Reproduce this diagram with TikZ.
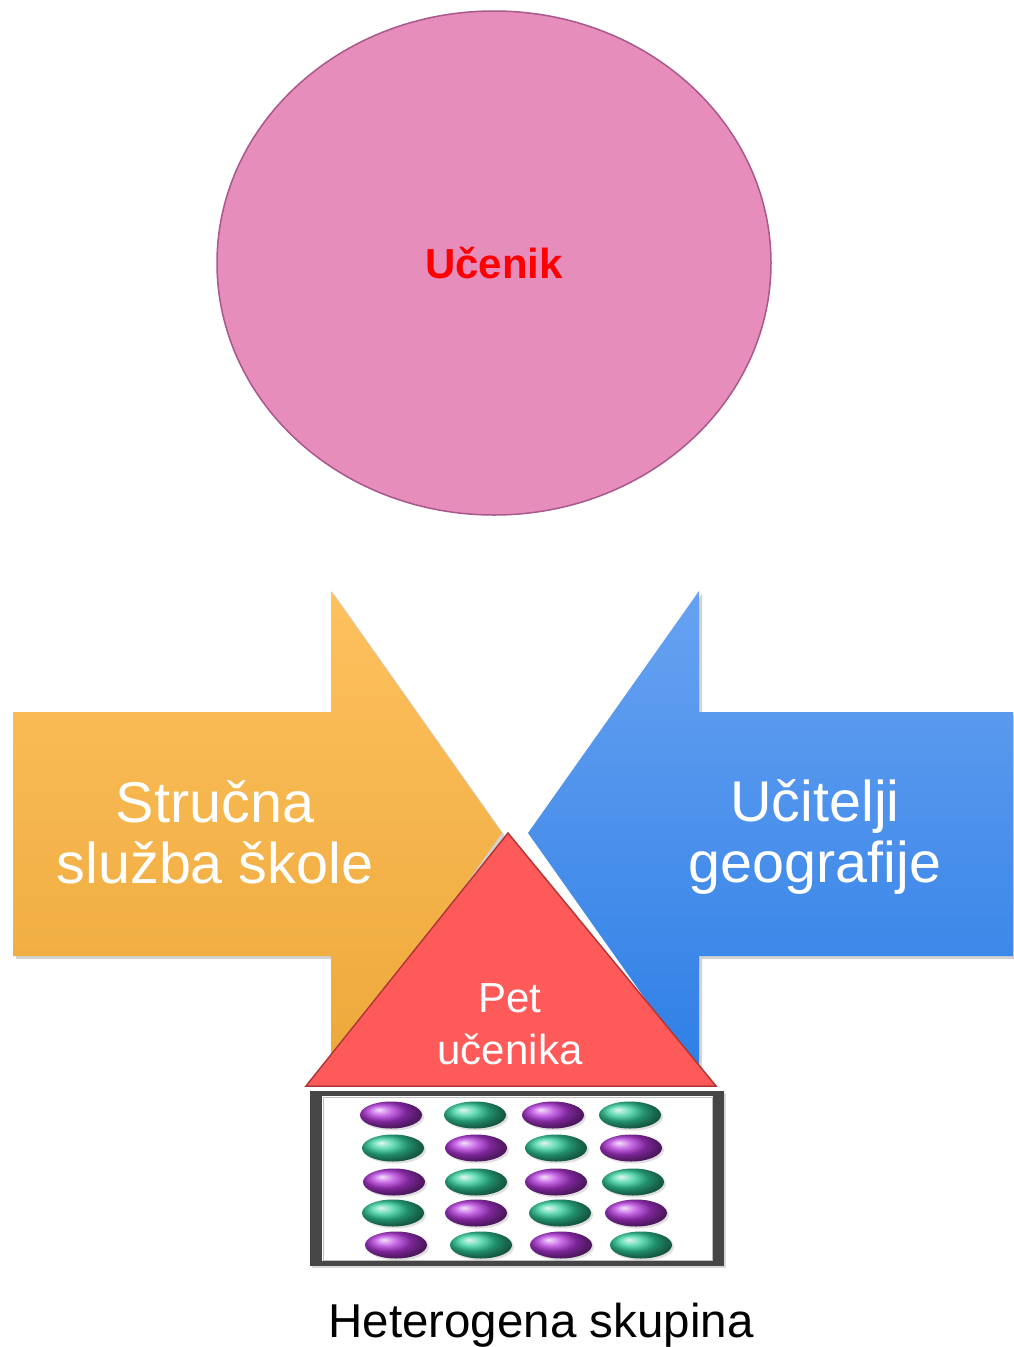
\documentclass[tikz,border=0pt]{standalone}
\usepackage{fontspec}
\setmainfont{Liberation Sans}
\usetikzlibrary{
  shapes.geometric,
  positioning,
  shadows
}
\definecolor{pinkfill}{RGB}{231,141,188}
\definecolor{pinkline}{RGB}{168,88,138}
\definecolor{orangetop}{RGB}{254,193,94}
\definecolor{orangebot}{RGB}{236,168,58}
\definecolor{bluetop}{RGB}{104,162,241}
\definecolor{bluebot}{RGB}{46,127,230}
\definecolor{trifill}{RGB}{255,90,90}
\definecolor{triline}{RGB}{178,56,56}
\definecolor{ballviolet}{RGB}{180,55,220}
\definecolor{ballgreen}{RGB}{48,205,155}
\definecolor{framegrey}{RGB}{70,70,70}

\begin{document}
\begin{tikzpicture}[
      x=1pt,y=-1pt,
      bigtext/.style={
         text=white,
         align=center,
         font=\fontsize{57.5}{61}\selectfont
      },
      arrowshape/.style={
         drop shadow={shadow xshift=3pt,shadow yshift=-3pt,opacity=.35}
      },
      pupil/.style={
         drop shadow={shadow xshift=2pt,shadow yshift=-2pt,opacity=.25}
      }
    ]
    \useasboundingbox (0,0) rectangle (1013,1347);
    % student
    \node (ucenik) [ellipse, minimum width=554, minimum height=504, inner sep=0pt,
       fill=pinkfill, draw=pinkline, line width=1.5pt,
       font=\bfseries\fontsize{42}{46}\selectfont, text=red] at (494,263) {Učenik};
    % arrows
    \path[arrowshape, top color=orangetop, bottom color=orangebot]
       (13,712) -- (331,712) -- (331,591) -- (502,833) -- (331,1075)
       -- (331,956) -- (13,956) -- cycle;
    \path[arrowshape, top color=bluetop, bottom color=bluebot]
       (1013,712) -- (699,712) -- (699,591) -- (528,833) -- (699,1075)
       -- (699,956) -- (1013,956) -- cycle;
    \node (sluzba) [bigtext] at (215,832) {Stručna\\služba škole};
    \node (ucitelji) [bigtext] at (815,837) {Učitelji\\geografije};
    % group
    \path[fill=trifill, draw=triline, line width=1.5pt]
       (508,833) -- (716,1086) -- (306,1086) -- cycle;
    \node (pet) [text=white, align=center, font=\fontsize{42}{52}\selectfont]
       at (510,1024) {Pet\\učenika};
    \fill[framegrey, drop shadow={shadow xshift=2pt,shadow yshift=-2pt,opacity=.3}]
       (310,1091) rectangle (724,1266);
    \fill[white] (322,1096) rectangle (713,1261);
    \draw[black!25, line width=1pt] (323,1097) rectangle (712,1260);
    \foreach \bx/\by/\bc in {
       391/1115/ballviolet, 475/1115/ballgreen, 553/1115/ballviolet, 630/1115/ballgreen,
       393/1148/ballgreen, 476/1148/ballviolet, 556/1148/ballgreen, 631/1148/ballviolet,
       394/1182/ballviolet, 476/1182/ballgreen, 556/1182/ballviolet, 633/1182/ballgreen,
       393/1213/ballgreen, 476/1213/ballviolet, 560/1213/ballgreen, 636/1213/ballviolet,
       396/1245/ballviolet, 481/1245/ballgreen, 561/1245/ballviolet, 641/1245/ballgreen}
       \shade[pupil, ball color=\bc] (\bx,\by) ellipse (31 and 13.5);
    \node (skupina) [anchor=base, font=\fontsize{47.5}{52}\selectfont] at (541,1337)
       {Heterogena skupina};
\end{tikzpicture}
\end{document}
